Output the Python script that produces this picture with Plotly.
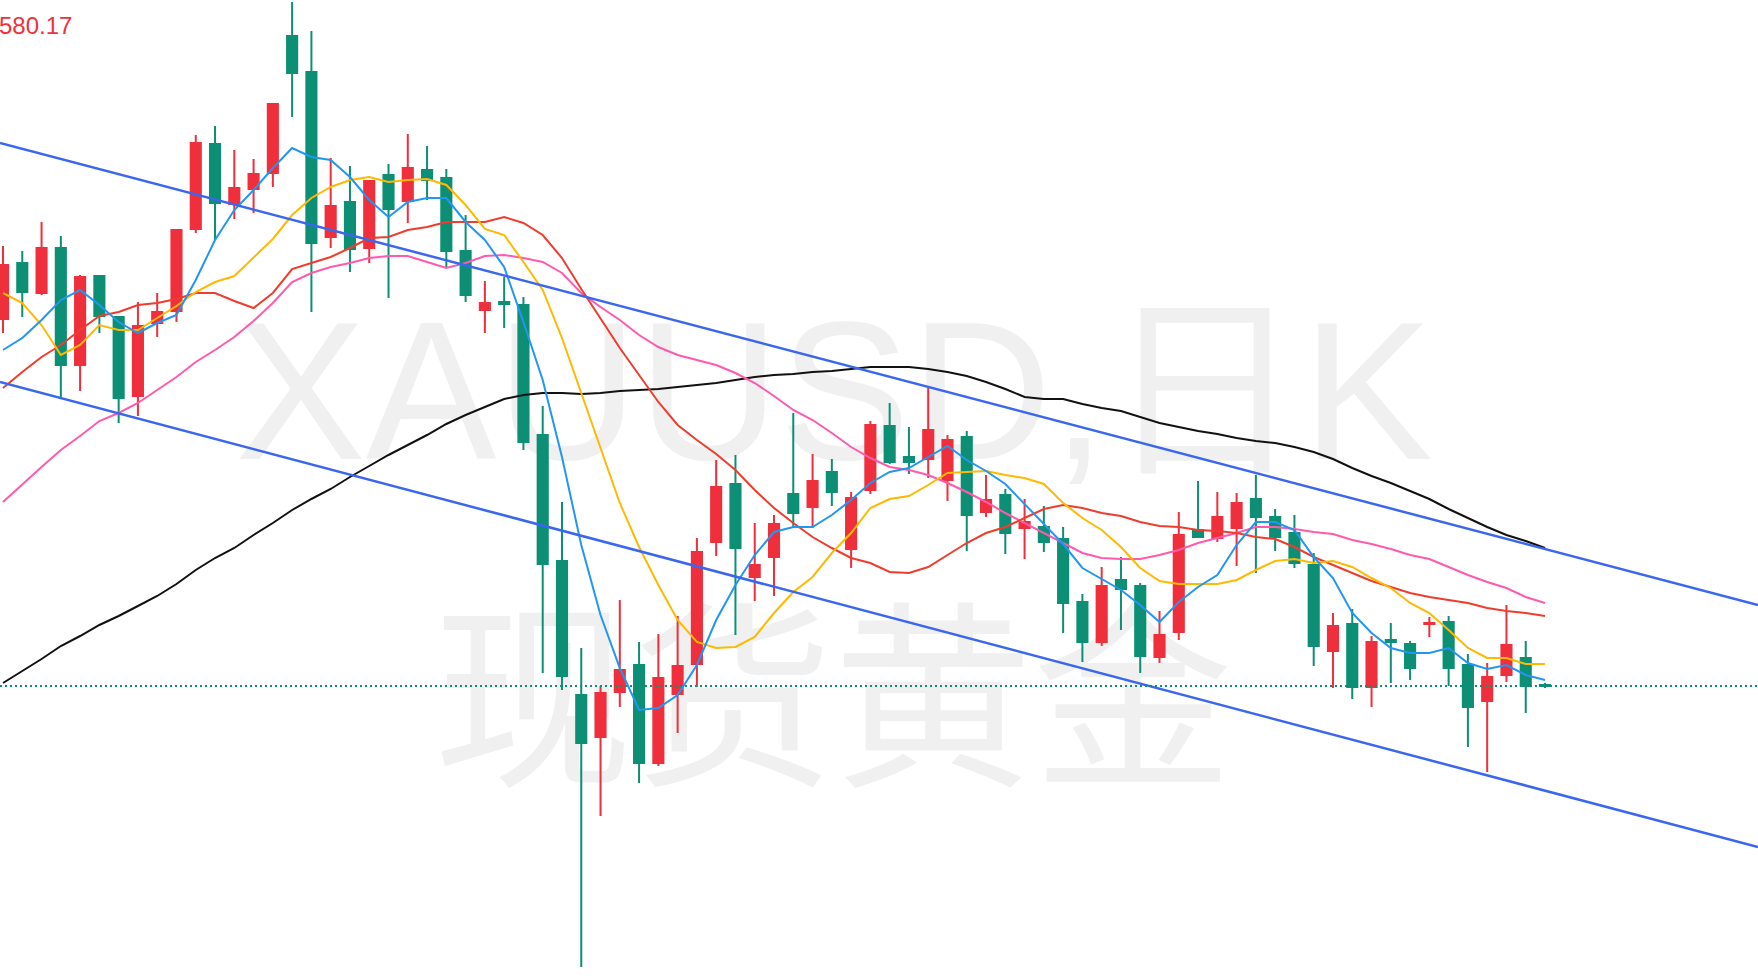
import plotly.graph_objects as go

# ---------------- data ----------------
IDX = list(range(81))

OPEN = [2421.5, 2449.5, 2434.5, 2457, 2398.5, 2443, 2422.5, 2383, 2419.5, 2425.5,
        2466.5, 2509, 2479, 2486.5, 2494.5, 2563, 2545, 2462.5, 2480, 2457,
        2493.5, 2480.5, 2496, 2492, 2455.5, 2426, 2430, 2428.5, 2363.5, 2300.5,
        2233.5, 2212.5, 2235, 2248.5, 2199.5, 2234, 2249, 2310, 2339, 2292.5,
        2302.5, 2334, 2327.5, 2345, 2306.5, 2336, 2368, 2352.5, 2351.5, 2341,
        2362.5, 2325, 2333.5, 2317, 2317.5, 2311.5, 2280, 2260, 2291, 2288,
        2252.5, 2265, 2316, 2312, 2317, 2331.5, 2322.5, 2314.5, 2298.5, 2255.5,
        2269, 2237.5, 2261, 2259, 2269, 2270, 2248.5, 2230.5, 2243.5, 2252,
        2238.5]

HIGH = [2458, 2455.5, 2470, 2463, 2443.5, 2443.5, 2423, 2430, 2434.5, 2466.5,
        2513.5, 2518, 2506, 2501.5, 2529.5, 2580, 2565.5, 2502, 2498, 2491,
        2499, 2514, 2508, 2496.5, 2473.5, 2440.5, 2442.5, 2432.5, 2378, 2330,
        2257, 2238, 2281, 2260, 2264, 2273, 2312, 2351, 2353.5, 2319.5,
        2323.5, 2374.5, 2354, 2351.5, 2335, 2370.5, 2379.5, 2367.5, 2387, 2363.5,
        2365.5, 2343.5, 2336.5, 2331.5, 2328, 2317.5, 2284, 2297.5, 2302.5, 2289.5,
        2275.5, 2325, 2340.5, 2335, 2334.5, 2343.5, 2326.5, 2323.5, 2304.5, 2274.5,
        2276.5, 2263, 2269.5, 2260.5, 2272.5, 2273, 2254, 2249.5, 2278.5, 2260.5,
        2239.5]

LOW = [2414.5, 2422.5, 2433.5, 2382, 2385.5, 2414.5, 2369.5, 2373, 2412.5, 2420,
       2464.5, 2461, 2471.5, 2474.5, 2487.5, 2522.5, 2425, 2457, 2445, 2449.5,
       2432, 2469.5, 2481, 2447, 2430, 2414.5, 2417, 2356, 2244.5, 2236,
       2097.5, 2173, 2227.5, 2189.5, 2198, 2214.5, 2237.5, 2303, 2263.5, 2280.5,
       2283, 2317.5, 2317, 2328, 2297, 2334, 2349, 2344, 2342, 2330.5,
       2305.5, 2322.5, 2304, 2301.5, 2305, 2264.5, 2250, 2258, 2266, 2244.5,
       2249.5, 2261, 2312, 2310, 2298, 2294.5, 2305.5, 2297, 2248, 2237,
       2231.5, 2227.5, 2239.5, 2241, 2262.5, 2238, 2207.5, 2195, 2240, 2224.5,
       2237]

CLOSE = [2448.5, 2435, 2457, 2398.5, 2442.5, 2423, 2382, 2418, 2425, 2466,
         2509.5, 2479.5, 2487, 2494, 2529, 2544.5, 2459.5, 2478, 2456.5, 2490.5,
         2476.5, 2497, 2491, 2455.5, 2433.5, 2429.5, 2429, 2360, 2299, 2243,
         2209.5, 2234.5, 2246, 2199.5, 2242, 2248, 2305, 2337.5, 2307, 2298.5,
         2319, 2324.5, 2340.5, 2335, 2332, 2368.5, 2350, 2350, 2366, 2361,
         2323.5, 2331, 2314.5, 2320, 2310, 2279.5, 2260, 2288, 2286.5, 2253,
         2263.5, 2313.5, 2312.5, 2322.5, 2329.5, 2322.5, 2312.5, 2299.5, 2258, 2268,
         2237.5, 2260, 2260, 2247, 2269.5, 2247, 2227.5, 2242.5, 2258.5, 2238,
         2238]

MA5 = [2406, 2412, 2421, 2431, 2436, 2428.5, 2420, 2414.5, 2419.5, 2423.5,
       2441, 2461, 2476, 2486, 2497, 2507, 2502.5, 2501, 2492.5, 2481,
       2472.5, 2480, 2482, 2482, 2470, 2461, 2447.5, 2420, 2391, 2352.5,
       2308.5, 2273.5, 2247, 2226, 2227, 2233.5, 2248.5, 2271, 2288.5, 2303.5,
       2315, 2317.5, 2317.5, 2323.5, 2331, 2339.5, 2345, 2347, 2352.5, 2358,
       2351, 2345.5, 2339, 2329, 2319.5, 2309, 2297, 2291.5, 2286, 2278.5,
       2270, 2280, 2287.5, 2293.5, 2308.5, 2320, 2320, 2316, 2302.5, 2292,
       2274.5, 2264.5, 2257, 2254.5, 2254.5, 2257, 2249.5, 2246.5, 2248.5, 2243.5,
       2241]

MA10 = [2434.5, 2429.5, 2418.5, 2403.5, 2408.5, 2418.5, 2416, 2416, 2422, 2428,
        2435, 2440, 2443, 2452.5, 2461.5, 2473.5, 2482, 2487.5, 2491, 2492.5,
        2490, 2491, 2491.5, 2488.5, 2478.5, 2466.5, 2463.5, 2450, 2436, 2412,
        2384.5, 2356, 2329.5, 2307.5, 2288.5, 2271, 2260, 2257, 2257.5, 2262.5,
        2274.5, 2285, 2292.5, 2304.5, 2314.5, 2327, 2331.5, 2333, 2338.5, 2344.5,
        2345, 2345.5, 2343.5, 2342, 2339, 2329.5, 2322, 2316, 2307.5, 2297,
        2290.5, 2289, 2289, 2289, 2291, 2296, 2300.5, 2301.5, 2299.5, 2300.5,
        2297.5, 2292, 2287, 2279.5, 2274.5, 2266, 2257, 2252, 2252, 2249,
        2249]

MA20 = [2387, 2395, 2402.5, 2408.5, 2416, 2423, 2425, 2428.5, 2429.5, 2431.5,
        2434.5, 2434.5, 2430.5, 2427, 2434.5, 2446.5, 2449.5, 2452.5, 2457, 2462,
        2462.5, 2466, 2467.5, 2470, 2470, 2470, 2472.5, 2469.5, 2463.5, 2452,
        2436.5, 2422, 2407, 2393.5, 2380, 2368.5, 2361, 2354, 2346, 2336,
        2327, 2319.5, 2312.5, 2307, 2302, 2299.5, 2295, 2294.5, 2297.5, 2303.5,
        2309.5, 2314.5, 2317.5, 2322, 2326.5, 2328.5, 2327, 2324.5, 2323, 2320,
        2318, 2317.5, 2316, 2315.5, 2314.5, 2312.5, 2311.5, 2307.5, 2302.5, 2298.5,
        2294.5, 2290.5, 2287.5, 2284.5, 2282.5, 2281, 2279.5, 2277, 2275.5, 2274.5,
        2273]

MA60 = [2330, 2339, 2347.5, 2356, 2363, 2370.5, 2374.5, 2379.5, 2386, 2392.5,
        2400, 2406, 2412.5, 2420.5, 2429.5, 2440, 2444.5, 2447.5, 2449.5, 2452,
        2453, 2453, 2450, 2447, 2449.5, 2453, 2453.5, 2452, 2450, 2444.5,
        2434.5, 2427.5, 2421, 2413.5, 2407.5, 2403.5, 2401, 2398.5, 2394.5, 2389.5,
        2383, 2376, 2371, 2364.5, 2357.5, 2352, 2347.5, 2346, 2343.5, 2339.5,
        2335, 2330, 2324.5, 2319.5, 2314.5, 2309.5, 2304.5, 2302, 2301.5, 2301.5,
        2303.5, 2306, 2309.5, 2312, 2314.5, 2317.5, 2317.5, 2316.5, 2315, 2314,
        2311, 2309, 2306.5, 2303.5, 2301.5, 2297.5, 2293.5, 2290, 2287, 2282.5,
        2279.5]

MA120 = [2239.5, 2245.5, 2251.5, 2258, 2263, 2268.5, 2273, 2278, 2283, 2289,
         2296, 2302, 2307, 2313.5, 2319.5, 2326, 2331.5, 2336.5, 2342.5, 2348,
         2353.5, 2358.5, 2363.5, 2369, 2373.5, 2377.5, 2381.5, 2383.5, 2384.5, 2384.5,
         2384, 2384.5, 2385.5, 2386, 2386.5, 2387.5, 2388.5, 2389.5, 2391, 2392.5,
         2393.5, 2394, 2395, 2395.5, 2396.5, 2397.5, 2397.5, 2397.5, 2396.5, 2395,
         2393, 2390, 2386.5, 2382.5, 2381.5, 2381.5, 2379, 2377, 2375.5, 2372.5,
         2369.5, 2367.5, 2365.5, 2364, 2362, 2360.5, 2359.5, 2357.5, 2355, 2351.5,
         2347, 2343, 2339.5, 2335.5, 2331.5, 2326.5, 2322, 2317.5, 2313.5, 2310.5,
         2307]

TREND_X = [-0.16, 91.05]
TREND_UPPER = [2509.5, 2278.5]
TREND_LOWER = [2390.0, 2157.5]

X_RANGE = [-0.156, 91.05]
Y_RANGE = [2092, 2581]

HIGH_LABEL = "580.17"
WATERMARK_LINE1 = "XAUUSD,日K"
WATERMARK_LINE2 = "现货黄金"

# ---------------- styles ----------------
UP = "#ef2f3c"
DOWN = "#0c8f74"
W, H = 1758, 978

fig = go.Figure()

fig.add_trace(go.Candlestick(
    x=IDX, open=OPEN, high=HIGH, low=LOW, close=CLOSE,
    increasing=dict(line=dict(color=UP, width=2), fillcolor=UP),
    decreasing=dict(line=dict(color=DOWN, width=2), fillcolor=DOWN),
    hoverinfo="skip", showlegend=False,
))

for series, color in [(MA120, "#111111"), (MA60, "#ff5aad"), (MA20, "#f03c2e"),
                      (MA10, "#ffb900"), (MA5, "#2196f3")]:
    fig.add_trace(go.Scatter(x=IDX, y=series, mode="lines",
                             line=dict(color=color, width=2),
                             hoverinfo="skip", showlegend=False))

for tl in (TREND_UPPER, TREND_LOWER):
    fig.add_trace(go.Scatter(x=TREND_X, y=tl, mode="lines",
                             line=dict(color="#3a66f0", width=2.5),
                             hoverinfo="skip", showlegend=False))

fig.add_trace(go.Scatter(x=X_RANGE, y=[CLOSE[-1], CLOSE[-1]], mode="lines",
                         line=dict(color=DOWN, width=2, dash="2px,3px"),
                         hoverinfo="skip", showlegend=False))

def px_x(p):
    return p / W

def px_y(p):
    return 1 - p / H

fig.add_shape(type="rect", xref="paper", yref="paper",
              x0=px_x(834 - 750), x1=px_x(834 + 750), y0=px_y(372 + 120), y1=px_y(372 - 120),
              line=dict(width=0), fillcolor="rgba(0,0,0,0)", layer="below",
              label=dict(text=WATERMARK_LINE1,
                         font=dict(size=196, color="#eff0ef",
                                   family="Liberation Sans, Noto Sans CJK SC"),
                         textposition="middle center"))
fig.add_shape(type="rect", xref="paper", yref="paper",
              x0=px_x(833 - 750), x1=px_x(833 + 750), y0=px_y(716 + 120), y1=px_y(716 - 120),
              line=dict(width=0), fillcolor="rgba(0,0,0,0)", layer="below",
              label=dict(text=WATERMARK_LINE2,
                         font=dict(size=200, color="#eff0ef", family="Noto Sans CJK SC"),
                         textposition="middle center"))

fig.add_annotation(xref="paper", yref="paper", x=0, y=px_y(25.5),
                   xanchor="left", yanchor="middle", xshift=-3,
                   text=HIGH_LABEL, showarrow=False,
                   font=dict(size=24, color=UP, family="Liberation Sans"))

fig.update_layout(
    width=W, height=H, margin=dict(l=0, r=0, t=0, b=0),
    paper_bgcolor="white", plot_bgcolor="white",
    showlegend=False, hovermode=False, dragmode=False,
    boxgap=0.25, boxgroupgap=0.3,
    xaxis=dict(range=X_RANGE, visible=False, showgrid=False, zeroline=False,
               rangeslider=dict(visible=False), fixedrange=True),
    yaxis=dict(range=Y_RANGE, visible=False, showgrid=False, zeroline=False,
               fixedrange=True),
)

fig.write_html("out.html", config={"displayModeBar": False, "staticPlot": True},
               post_script="document.body.style.margin='0';document.body.style.overflow='hidden';")
